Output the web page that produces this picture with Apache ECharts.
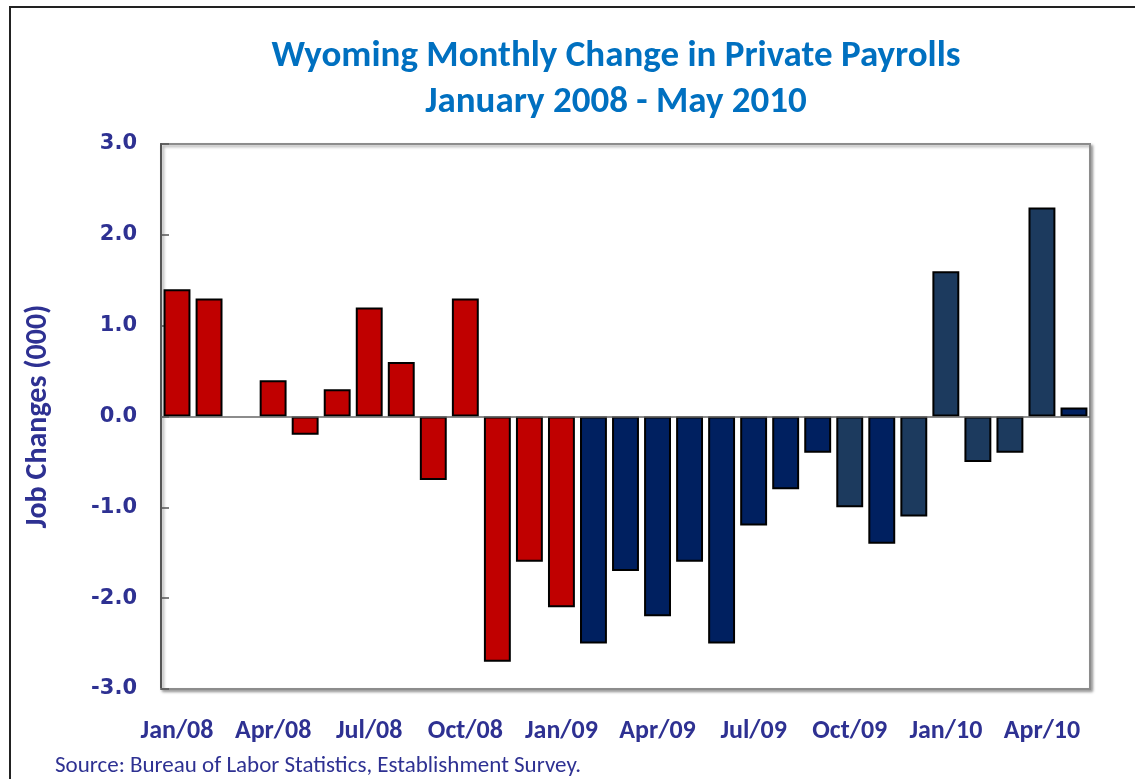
<!DOCTYPE html>
<html>
<head>
<meta charset="utf-8">
<script src="https://cdn.jsdelivr.net/npm/echarts@6/dist/echarts.min.js"></script>
<style>
  html, body { margin: 0; padding: 0; background: #fff; }
  #chart { width: 1135px; height: 779px; }
</style>
</head>
<body>
<div id="chart"></div>
<script>
// months Jan/08 .. May/10
var months = ['Jan/08','Feb/08','Mar/08','Apr/08','May/08','Jun/08','Jul/08','Aug/08','Sep/08','Oct/08','Nov/08','Dec/08',
              'Jan/09','Feb/09','Mar/09','Apr/09','May/09','Jun/09','Jul/09','Aug/09','Sep/09','Oct/09','Nov/09','Dec/09',
              'Jan/10','Feb/10','Mar/10','Apr/10','May/10'];
var jobChanges = [1.4, 1.3, 0.0, 0.4, -0.2, 0.3, 1.2, 0.6, -0.7, 1.3, -2.7, -1.6,
                  -2.1, -2.5, -1.7, -2.2, -1.6, -2.5, -1.2, -0.8, -0.4, -1.0, -1.4, -1.1,
                  1.6, -0.5, -0.4, 2.3, 0.1];
// fill group per month: r = red, n = navy, s = slate
var barGroup = ['r','r','r','r','r','r','r','r','r','r','r','r',
                'r','n','n','n','n','n','n','n','n','s','n','s',
                's','s','s','s','n'];
var groupColors = { r: '#C00000', n: '#002060', s: '#1C3A5E' };

var blue = '#2E3192';
var titleFont = 'Carlito, Lato, "Open Sans", sans-serif';

var chart = echarts.init(document.getElementById('chart'));

var option = {
    animation: false,
    title: {
        text: 'Wyoming Monthly Change in Private Payrolls\nJanuary 2008 - May 2010',
        left: 611,
        top: 29,
        textAlign: 'center',
        textStyle: {
            color: '#0070C0',
            fontFamily: titleFont,
            fontSize: 37,
            fontWeight: 'bold',
            lineHeight: 46
        }
    },
    graphic: [
        {
            type: 'rect',
            shape: { x: 10, y: 7, width: 1140, height: 790 },
            style: { fill: null, stroke: '#222', lineWidth: 2 },
            silent: true
        },
        {
            type: 'text',
            left: 55,
            top: 755,
            style: {
                text: 'Source: Bureau of Labor Statistics, Establishment Survey.',
                fill: blue,
                font: '23px ' + titleFont
            }
        }
    ],
    grid: {
        left: 161,
        right: 45,
        top: 144,
        bottom: 90,
        show: true,
        borderColor: '#8c8c8c',
        borderWidth: 2,
        shadowColor: 'rgba(0,0,0,0.35)',
        shadowBlur: 3,
        shadowOffsetX: 2,
        shadowOffsetY: 2,
        backgroundColor: '#fff'
    },
    xAxis: {
        type: 'category',
        data: months,
        axisLine: { onZero: false, lineStyle: { color: '#8c8c8c', width: 2 } },
        axisTick: { show: false },
        axisLabel: {
            interval: 2,
            margin: 29,
            color: blue,
            fontFamily: titleFont,
            fontSize: 26,
            fontWeight: 'bold'
        }
    },
    yAxis: {
        type: 'value',
        min: -3,
        max: 3,
        interval: 1,
        name: 'Job Changes (000)',
        nameLocation: 'middle',
        nameGap: 108,
        nameTextStyle: {
            color: blue,
            fontFamily: titleFont,
            fontSize: 30,
            fontWeight: 'bold'
        },
        axisLine: { show: true, lineStyle: { color: '#555', width: 2 } },
        axisTick: { show: true, inside: true, length: 8, lineStyle: { color: '#555', width: 1.5 } },
        splitLine: { show: false },
        axisLabel: {
            margin: 24,
            color: blue,
            fontFamily: '"DejaVu Sans", Verdana, sans-serif',
            fontSize: 21,
            fontWeight: 'bold',
            formatter: function (v) { return v.toFixed(1); }
        }
    },
    series: [{
        type: 'bar',
        barWidth: '84%',
        data: jobChanges.map(function (v, i) {
            return {
                value: v,
                itemStyle: {
                    color: groupColors[barGroup[i]],
                    borderWidth: v === 0 ? 0 : 2
                }
            };
        }),
        itemStyle: { borderColor: '#000', borderWidth: 2 },
        markLine: {
            silent: true,
            symbol: 'none',
            label: { show: false },
            lineStyle: { color: '#666', width: 1.5, type: 'solid' },
            data: [{ yAxis: 0 }]
        }
    }]
};
chart.setOption(option);
</script>
</body>
</html>
